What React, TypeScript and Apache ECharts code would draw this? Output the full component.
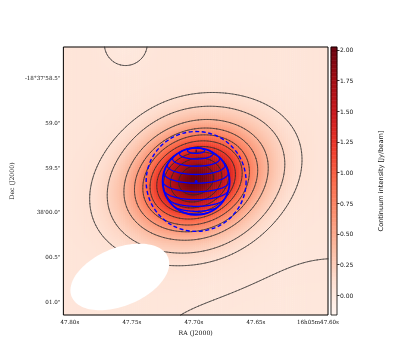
import React, { useEffect, useRef } from "react";
import * as echarts from "echarts";

// ---- axes / ticks ----
const RA_TICKS = [47.8, 47.75, 47.7, 47.65, 47.6];
const RA_TICK_LABELS = ["47.80s", "47.75s", "47.70s", "47.65s", "16h05m47.60s"];
const DEC_TICKS = [58.5, 59.0, 59.5, 60.0, 60.5, 61.0];
const DEC_TICK_LABELS = ["-18°37'58.5\"", "59.0\"", "59.5\"", "38'00.0\"", "00.5\"", "01.0\""];
const CBAR_TICKS = [0, 0.25, 0.5, 0.75, 1, 1.25, 1.5, 1.75, 2];

// view window: RA seconds (after 16h05m), Dec arcsec (after -18°37')
const RA_LIMITS = [47.5919, 47.8052];
const DEC_LIMITS = [58.156, 61.144];
const INTENSITY_LIMITS = [-0.163, 2.024];
const REDS = ["#fff5f0", "#fee0d2", "#fcbba1", "#fc9272", "#fb6a4a", "#ef3b2c", "#cb181d", "#a50f15", "#67000d"];
const ARCSEC_PER_RA_SECOND = 13.96;

// ---- continuum image model ----
const SOURCE_RA = [47.6982, 47.6982];
const SOURCE_DEC = [59.639, 59.639];
const SOURCE_PEAK = [1.35, 0.6];
const SOURCE_SIGMA_MAJOR = [0.49, 0.37];
const SOURCE_SIGMA_MINOR = [0.345, 0.37];
const SOURCE_ANGLE = [22, 0];
const BACKGROUND_LEVEL = 0.045;
const DIP_RA = [47.5864, 47.7549];
const DIP_DEC = [63.329, 58.123];
const DIP_PEAK = [-0.062, -0.042];
const DIP_SIGMA = [1.672, 0.167];

const CONTOUR_LEVELS = [0.03, 0.1, 0.2, 0.4, 0.6, 0.8, 1.0, 1.2, 1.4, 1.6, 1.8];

// ---- beam ----
const BEAM_CENTER = [47.7597, 60.72];
const BEAM_SEMI_AXES = [0.585, 0.323];
const BEAM_ANGLE = 22;

// ---- blue overlays ----
const GLOBE_CENTER = [47.6982, 59.655];
const GLOBE_RADIUS = 0.3735;
const GLOBE_TILT = 18;
const GLOBE_LATITUDES = [75, 60, 45, 30, 15, 0, -15, -30, -45, -60, -75];
const DASHED_RADIUS = 0.557;

const HEAT_NX = 134;
const HEAT_NY = 134;
const CONTOUR_N = 181;
const CBAR_N = 200;

function intensity(ra: number, dec: number): number {
  let v = BACKGROUND_LEVEL;
  for (let k = 0; k < SOURCE_RA.length; k++) {
    const u = (SOURCE_RA[k] - ra) * ARCSEC_PER_RA_SECOND;
    const w = SOURCE_DEC[k] - dec;
    const a = (SOURCE_ANGLE[k] * Math.PI) / 180;
    const p = u * Math.cos(a) + w * Math.sin(a);
    const q = -u * Math.sin(a) + w * Math.cos(a);
    const sM = SOURCE_SIGMA_MAJOR[k];
    const sm = SOURCE_SIGMA_MINOR[k];
    v += SOURCE_PEAK[k] * Math.exp(-0.5 * ((p * p) / (sM * sM) + (q * q) / (sm * sm)));
  }
  for (let k = 0; k < DIP_RA.length; k++) {
    const u = (DIP_RA[k] - ra) * ARCSEC_PER_RA_SECOND;
    const w = DIP_DEC[k] - dec;
    v += DIP_PEAK[k] * Math.exp(-0.5 * (u * u + w * w) / (DIP_SIGMA[k] * DIP_SIGMA[k]));
  }
  return v;
}

function contourSegments(grid: number[][], xs: number[], ys: number[], level: number): number[][] {
  const segs: number[][] = [];
  for (let j = 0; j < ys.length - 1; j++) {
    for (let i = 0; i < xs.length - 1; i++) {
      const c = [grid[j][i], grid[j][i + 1], grid[j + 1][i + 1], grid[j + 1][i]];
      const px = [xs[i], xs[i + 1], xs[i + 1], xs[i]];
      const py = [ys[j], ys[j], ys[j + 1], ys[j + 1]];
      const pts: (number[] | null)[] = [];
      let n = 0;
      for (let e = 0; e < 4; e++) {
        const a = e;
        const b = (e + 1) % 4;
        if (c[a] > level !== c[b] > level) {
          const t = (level - c[a]) / (c[b] - c[a]);
          pts.push([px[a] + t * (px[b] - px[a]), py[a] + t * (py[b] - py[a])]);
          n++;
        } else pts.push(null);
      }
      if (n === 2) {
        const h = pts.filter((p) => p) as number[][];
        segs.push([h[0][0], h[0][1], h[1][0], h[1][1]]);
      } else if (n === 4) {
        const center = (c[0] + c[1] + c[2] + c[3]) / 4;
        const P = pts as number[][];
        if (c[0] > level === center > level) {
          segs.push([P[0][0], P[0][1], P[1][0], P[1][1]]);
          segs.push([P[2][0], P[2][1], P[3][0], P[3][1]]);
        } else {
          segs.push([P[3][0], P[3][1], P[0][0], P[0][1]]);
          segs.push([P[1][0], P[1][1], P[2][0], P[2][1]]);
        }
      }
    }
  }
  return segs;
}

function labelFor(ticks: number[], labels: string[], v: number): string {
  for (let i = 0; i < ticks.length; i++) if (Math.abs(ticks[i] - v) < 1e-6) return labels[i];
  return "";
}

export default function App() {
  const ref = useRef<HTMLDivElement>(null);
  useEffect(() => {
    if (!ref.current) return;
    const chart = echarts.init(ref.current, undefined, { renderer: "svg" });
    const K = ARCSEC_PER_RA_SECOND;

    // heatmap cells
    const heat: number[][] = [];
    for (let j = 0; j < HEAT_NY; j++) {
      const dec = DEC_LIMITS[0] + ((j + 0.5) / HEAT_NY) * (DEC_LIMITS[1] - DEC_LIMITS[0]);
      for (let i = 0; i < HEAT_NX; i++) {
        const ra = RA_LIMITS[1] - ((i + 0.5) / HEAT_NX) * (RA_LIMITS[1] - RA_LIMITS[0]);
        heat.push([i, j, intensity(ra, dec)]);
      }
    }
    // contour grid
    const xs: number[] = [];
    const ys: number[] = [];
    for (let i = 0; i < CONTOUR_N; i++) xs.push(RA_LIMITS[1] - (i / (CONTOUR_N - 1)) * (RA_LIMITS[1] - RA_LIMITS[0]));
    for (let j = 0; j < CONTOUR_N; j++) ys.push(DEC_LIMITS[0] + (j / (CONTOUR_N - 1)) * (DEC_LIMITS[1] - DEC_LIMITS[0]));
    const grid = ys.map((d) => xs.map((r) => intensity(r, d)));
    const contourSegs = CONTOUR_LEVELS.map((l) => contourSegments(grid, xs, ys, l));

    const cbar: number[][] = [];
    for (let k = 0; k < CBAR_N; k++) {
      cbar.push([0, k, INTENSITY_LIMITS[0] + ((k + 0.5) / CBAR_N) * (INTENSITY_LIMITS[1] - INTENSITY_LIMITS[0])]);
    }

    const serif = "DejaVu Serif";
    const sans = "DejaVu Sans";

    chart.setOption({
      animation: false,
      grid: [
        { left: 61, top: 47, width: 267, height: 268, show: true, borderColor: "#000", borderWidth: 1, backgroundColor: "transparent", z: 10 },
        { left: 331, top: 47, width: 6, height: 268, show: true, borderColor: "#000", borderWidth: 0.8, backgroundColor: "transparent", z: 10 },
      ],
      xAxis: [
        {
          type: "value", gridIndex: 0, min: RA_LIMITS[0], max: RA_LIMITS[1], inverse: true, position: "bottom",
          axisLine: { show: false }, axisTick: { show: false }, splitLine: { show: false },
          axisLabel: {
            customValues: RA_TICKS, formatter: (v: number) => labelFor(RA_TICKS, RA_TICK_LABELS, v),
            fontSize: 5.6, fontFamily: serif, color: "#111", margin: 4,
          },
          name: "RA (J2000)", nameLocation: "middle", nameGap: 11,
          nameTextStyle: { fontSize: 6.2, fontFamily: serif, color: "#111" },
        },
        { type: "category", gridIndex: 0, data: Array.from({ length: HEAT_NX }, (_, i) => i), show: false, position: "top" },
        { type: "category", gridIndex: 1, data: [0], show: false },
      ],
      yAxis: [
        {
          type: "value", gridIndex: 0, min: DEC_LIMITS[0], max: DEC_LIMITS[1], inverse: true, position: "left",
          axisLine: { show: false }, axisTick: { show: false }, splitLine: { show: false },
          axisLabel: {
            customValues: DEC_TICKS, formatter: (v: number) => labelFor(DEC_TICKS, DEC_TICK_LABELS, v),
            fontSize: 5.6, fontFamily: serif, color: "#111", margin: 3,
          },
          name: "Dec (J2000)", nameLocation: "middle", nameRotate: 90, nameGap: 40,
          nameTextStyle: { fontSize: 6.2, fontFamily: serif, color: "#111" },
        },
        { type: "category", gridIndex: 0, data: Array.from({ length: HEAT_NY }, (_, i) => i), inverse: true, show: false, position: "right" },
        { type: "category", gridIndex: 1, data: Array.from({ length: CBAR_N }, (_, i) => i), show: false, position: "left" },
        {
          type: "value", gridIndex: 1, min: INTENSITY_LIMITS[0], max: INTENSITY_LIMITS[1], position: "right",
          axisLine: { show: false }, splitLine: { show: false },
          axisTick: { show: true, customValues: CBAR_TICKS, length: 2.5, lineStyle: { color: "#000", width: 0.8 } },
          axisLabel: {
            customValues: CBAR_TICKS, formatter: (v: number) => v.toFixed(2),
            fontSize: 6, fontFamily: sans, color: "#111", margin: 3,
          },
          name: "Continuum intensity [Jy/beam]", nameLocation: "middle", nameRotate: 90, nameGap: 40,
          nameTextStyle: { fontSize: 6.6, fontFamily: sans, color: "#111" },
        },
      ],
      visualMap: {
        type: "continuous", show: false, min: INTENSITY_LIMITS[0], max: INTENSITY_LIMITS[1],
        dimension: 2, seriesIndex: [0, 1], inRange: { color: REDS },
      },
      series: [
        {
          type: "heatmap", xAxisIndex: 1, yAxisIndex: 1, data: heat, progressive: 0, silent: true, z: 1,
          emphasis: { disabled: true },
        },
        {
          type: "heatmap", xAxisIndex: 2, yAxisIndex: 2, data: cbar, progressive: 0, silent: true, z: 1,
          emphasis: { disabled: true },
        },
        {
          type: "custom", coordinateSystem: "cartesian2d", xAxisIndex: 0, yAxisIndex: 0, silent: true, z: 2,
          data: CONTOUR_LEVELS.map((l) => [SOURCE_RA[0], SOURCE_DEC[0], l]),
          encode: { x: 0, y: 1 },
          renderItem: (params: any, api: any) => {
            const segs = contourSegs[params.dataIndex];
            let d = "";
            for (const s of segs) {
              const a = api.coord([s[0], s[1]]);
              const b = api.coord([s[2], s[3]]);
              d += `M${a[0].toFixed(2)} ${a[1].toFixed(2)}L${b[0].toFixed(2)} ${b[1].toFixed(2)}`;
            }
            if (!d) return { type: "group", children: [] };
            return {
              type: "path", shape: { pathData: d },
              style: { fill: "none", stroke: "#2a2a2a", lineWidth: 0.6, lineCap: "round" },
            };
          },
        },
        {
          type: "custom", coordinateSystem: "cartesian2d", xAxisIndex: 0, yAxisIndex: 0, silent: true, z: 3,
          data: [[BEAM_CENTER[0], BEAM_CENTER[1]]], encode: { x: 0, y: 1 },
          renderItem: (_p: any, api: any) => {
            const th = (BEAM_ANGLE * Math.PI) / 180;
            const pts: number[][] = [];
            for (let t = 0; t < 360; t += 3) {
              const r = (t * Math.PI) / 180;
              const p = BEAM_SEMI_AXES[0] * Math.cos(r);
              const q = BEAM_SEMI_AXES[1] * Math.sin(r);
              const u = p * Math.cos(th) - q * Math.sin(th);
              const w = p * Math.sin(th) + q * Math.cos(th);
              pts.push(api.coord([BEAM_CENTER[0] - u / K, BEAM_CENTER[1] - w]));
            }
            return { type: "polygon", shape: { points: pts }, style: { fill: "#fff", stroke: "none" } };
          },
        },
        {
          type: "custom", coordinateSystem: "cartesian2d", xAxisIndex: 0, yAxisIndex: 0, silent: true, z: 4,
          data: [[GLOBE_CENTER[0], GLOBE_CENTER[1]]], encode: { x: 0, y: 1 },
          renderItem: (_p: any, api: any) => {
            const toPx = (u: number, w: number) => api.coord([GLOBE_CENTER[0] - u / K, GLOBE_CENTER[1] - w]);
            const c = toPx(0, 0);
            const rPx = api.size([0, GLOBE_RADIUS])[1];
            const dPx = api.size([0, DASHED_RADIUS])[1];
            const tilt = (GLOBE_TILT * Math.PI) / 180;
            const R = GLOBE_RADIUS;
            const children: any[] = [];
            children.push({
              type: "circle", shape: { cx: c[0], cy: c[1], r: dPx },
              style: { fill: "none", stroke: "#0000ff", lineWidth: 1.4, lineDash: [4, 2.5] },
            });
            for (const lat of GLOBE_LATITUDES) {
              const phi = (lat * Math.PI) / 180;
              let run: number[][] = [];
              const flush = () => {
                if (run.length > 1) {
                  children.push({
                    type: "polyline", shape: { points: run },
                    style: { fill: "none", stroke: "#0000ff", lineWidth: 1.3 },
                  });
                }
                run = [];
              };
              for (let dl = -180; dl <= 180; dl += 2) {
                const lam = (dl * Math.PI) / 180;
                const X = R * Math.cos(phi) * Math.sin(lam);
                const Y = R * Math.sin(phi);
                const Z = R * Math.cos(phi) * Math.cos(lam);
                const Yp = Y * Math.cos(tilt) - Z * Math.sin(tilt);
                const Zp = Y * Math.sin(tilt) + Z * Math.cos(tilt);
                if (Zp >= 0) run.push(toPx(X, Yp));
                else flush();
              }
              flush();
            }
            children.push({
              type: "circle", shape: { cx: c[0], cy: c[1], r: rPx },
              style: { fill: "none", stroke: "#0000ff", lineWidth: 1.8 },
            });
            const pole = toPx(0, R * Math.cos(tilt));
            const pole2 = toPx(0, R * Math.cos(tilt) - 0.03);
            children.push({
              type: "line", shape: { x1: pole[0], y1: pole[1], x2: pole2[0], y2: pole2[1] },
              style: { stroke: "#000060", lineWidth: 1 },
            });
            children.push({ type: "circle", shape: { cx: c[0], cy: c[1], r: 1.5 }, style: { fill: "#0000ff" } });
            return { type: "group", children };
          },
        },
      ],
    });
    return () => chart.dispose();
  }, []);
  return <div ref={ref} style={{ position: "fixed", left: 0, top: 0, width: 400, height: 360 }} />;
}
